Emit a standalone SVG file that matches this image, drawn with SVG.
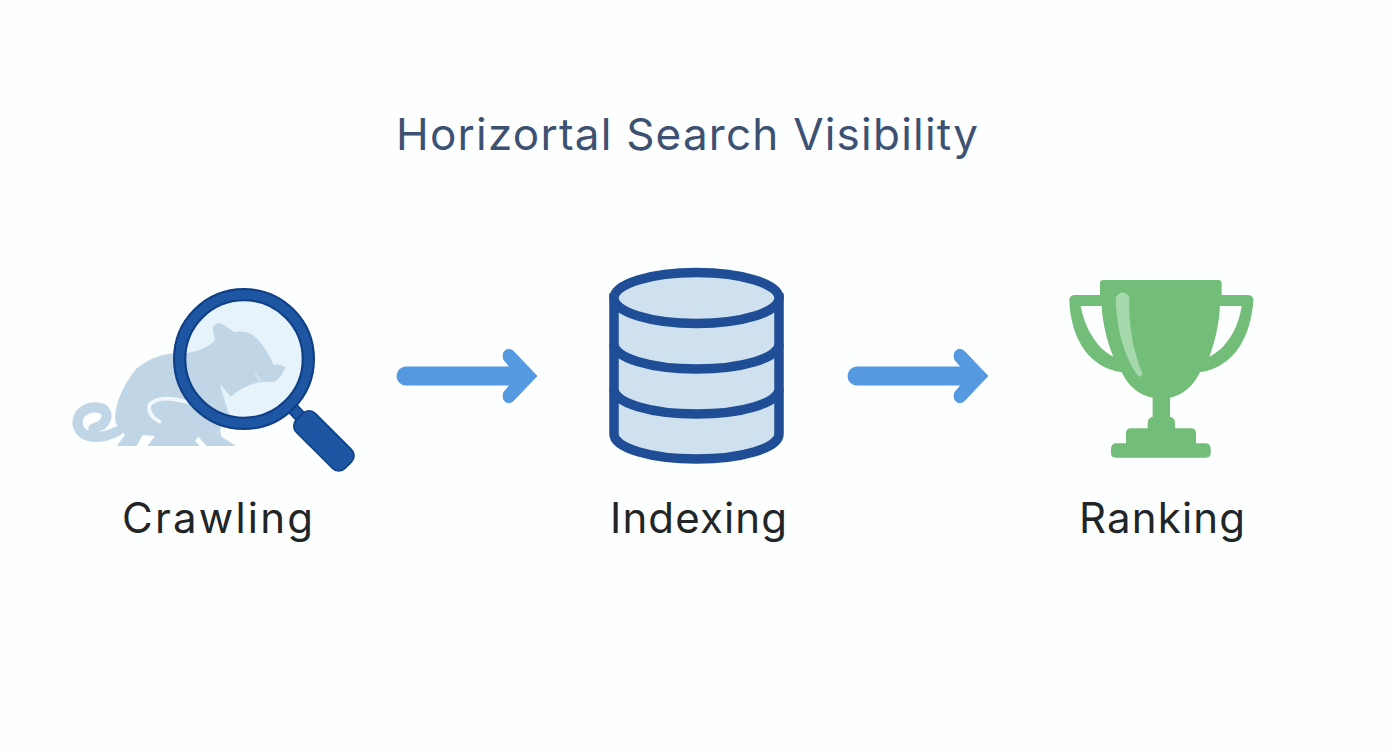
<svg xmlns="http://www.w3.org/2000/svg" width="1392" height="752" viewBox="0 0 1392 752">
<style>
.t{font-family:"Inter","Liberation Sans",sans-serif;text-anchor:start}
.title{font-size:44px;font-weight:400;fill:#3d5273}
.label{font-size:42px;font-weight:400;fill:#222528}
.db{fill:#cfe0ee;stroke:#1f4e96;stroke-width:9.500}
.dbl{fill:none;stroke:#1f4e96;stroke-width:9.500}
.shaft{stroke:#5599e0;stroke-width:19;stroke-linecap:round;fill:none}
.animal{fill:#c0d6e7}
.green{fill:#72be78}
</style>
<defs>
<marker id="head" markerUnits="userSpaceOnUse" markerWidth="50" markerHeight="70" refX="10" refY="35" orient="auto" viewBox="0 0 50 70">
<path d="M37 35 L13 10 Q8 6 4 11 Q2 15 4 19 L10 26 L10 44 L4 51 Q2 55 4 59 Q8 64 13 60 Z" fill="#5599e0" stroke="#5599e0" stroke-width="1" stroke-linejoin="round"/>
</marker>
</defs>
<rect width="1392" height="752" fill="#fdfefe"/>
<g id="title"><text class="t title" x="396" y="150" textLength="582" lengthAdjust="spacing">Horizortal Search Visibility</text></g>
<g id="crawling">
<g transform="translate(60 270) scale(.33333)">
<circle cx="552" cy="267" r="175" fill="#e6f3fa"/>
<path class="animal" d="M458 172 Q470 152 492 165 L522 186 Q560 180 585 200 Q622 235 640 285 Q660 280 676 292 Q670 315 645 335 L605 336 L583 305 Q590 325 605 336 Q560 340 512 380 L480 342 Q495 400 510 440 Q470 470 485 500 L528 528 L440 528 L415 500 L405 512 L418 528 L262 528 L285 498 L248 495 L230 528 L170 528 L195 495 Q165 470 165 440 Q170 370 230 295 Q280 255 340 250 L380 250 Q440 240 465 210 Z"/>
<path d="M172 484 Q110 515 68 490 Q42 465 60 432 Q90 402 130 417 Q152 440 125 465 L100 476" fill="none" stroke="#c0d6e7" stroke-width="30" stroke-linecap="round" stroke-linejoin="round"/>
<path d="M298 455 Q262 435 268 405 Q290 380 345 388 L392 398" fill="none" stroke="#f2f7fb" stroke-width="11" stroke-linecap="round"/>
<path d="M690 407 L745 465" stroke="#0f3f86" stroke-width="38" fill="none"/>
<path d="M690 407 L745 465" stroke="#1f56a3" stroke-width="28" fill="none"/>
<rect x="-102" y="-40" width="206" height="80" rx="26" transform="translate(791 512) rotate(45)" fill="#1f56a3" stroke="#0f3f86" stroke-width="5"/>
<circle cx="552" cy="267" r="193" fill="none" stroke="#0f3f86" stroke-width="40"/>
<circle cx="552" cy="267" r="193" fill="none" stroke="#1f56a3" stroke-width="27"/>
</g>
<text class="t label" x="122" y="533" textLength="191" lengthAdjust="spacing">Crawling</text>
</g>
<g id="connectors">
<path class="shaft" d="M406 376 H510" marker-end="url(#head)"/>
<path class="shaft" d="M857 376 H961" marker-end="url(#head)"/>
</g>
<g id="indexing">
<path class="db" d="M614 298 V434 C614 448 651 459 696.500 459 C742 459 779 448 779 434 V298 Z"/>
<ellipse class="db" cx="696.500" cy="298" rx="82.500" ry="25.500"/>
<path class="dbl" d="M614 344 C614 358 651 369 696.500 369 C742 369 779 358 779 344"/>
<path class="dbl" d="M614 389 C614 403 651 414 696.500 414 C742 414 779 403 779 389"/>
<text class="t label" x="610" y="533" textLength="177" lengthAdjust="spacing">Indexing</text>
</g>
<g id="ranking">
<g transform="translate(1050 265) scale(.33333)">
<path class="green" fill-rule="evenodd" d="M160 45 H505 Q515 45 515 55 V90 H595 Q612 92 610 108 C603 205 560 305 450 322 C430 365 395 392 360 398 V455 Q375 458 375 475 V490 H425 Q438 492 438 505 V535 H468 Q482 537 482 552 V565 Q482 578 468 578 H197 Q183 578 183 565 V552 Q183 537 197 535 H228 V505 Q228 492 240 490 H293 V475 Q293 458 308 455 V398 C270 392 235 365 215 322 C105 305 62 205 58 108 Q57 92 72 90 H150 V55 Q150 45 160 45 Z M92 123 C105 190 140 250 190 275 C170 225 158 175 155 123 Z M575 123 H510 C507 175 497 225 478 275 C530 250 565 190 575 123 Z"/>
<path d="M197 98 Q215 68 238 95 C235 180 250 260 277 325 Q272 345 258 325 C215 260 198 170 197 98 Z" fill="#a5d8aa"/>
</g>
<text class="t label" x="1079" y="533" textLength="166" lengthAdjust="spacing">Ranking</text>
</g>
</svg>
